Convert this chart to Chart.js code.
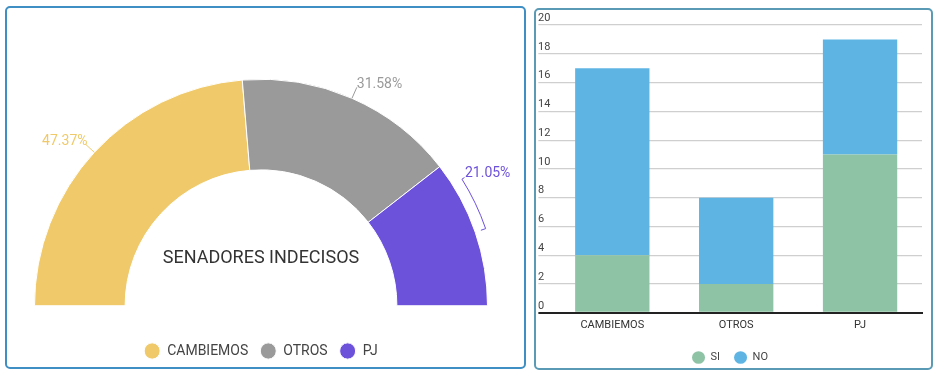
<!DOCTYPE html>
<html>
<head>
<meta charset="utf-8">
<script src="https://cdn.jsdelivr.net/npm/chart.js@4.4.1/dist/chart.umd.min.js"></script>
<style>
  body { margin: 0; background: #fff; font-family: Roboto, sans-serif; }
  .panel { position: absolute; box-sizing: border-box; border: 2px solid #3f8fc4; border-radius: 5px; }
  #panelLeft { left: 5px; top: 6px; width: 521px; height: 363px; }
  #panelRight { left: 534px; top: 8px; width: 399px; height: 362px; border-color: #5a9ab4; }
  .box { position: absolute; }
  #boxLeft { left: 7px; top: 8px; width: 516px; height: 360px; }
  #boxRight { left: 536px; top: 10px; width: 394px; height: 363px; }
</style>
</head>
<body>
<div class="panel" id="panelLeft"></div>
<div class="panel" id="panelRight"></div>
<div class="box" id="boxLeft"><canvas id="pieCanvas"></canvas></div>
<div class="box" id="boxRight"><canvas id="barCanvas"></canvas></div>
<script>
  var parties = ['CAMBIEMOS', 'OTROS', 'PJ'];
  var undecided = [9, 6, 4];
  var pieColors = ['#f0ca6a', '#9a9a9a', '#6c51db'];
  var centerText = 'SENADORES INDECISOS';

  var voteLabels = ['SI', 'NO'];
  var siVotes = [4, 2, 11];
  var noVotes = [13, 6, 8];
  var siColor = '#8ec3a5';
  var noColor = '#5eb5e4';
  var yMax = 20;
  var yStep = 2;

  Chart.defaults.font.family = 'Roboto';
  Chart.defaults.color = '#444';

  var centerTitle = {
    id: 'centerTitle',
    afterDatasetsDraw: function (chart) {
      var arc = chart.getDatasetMeta(0).data[0];
      if (!arc) return;
      var ctx = chart.ctx;
      ctx.save();
      ctx.font = '18px Roboto';
      ctx.fillStyle = '#333';
      ctx.textAlign = 'center';
      ctx.textBaseline = 'middle';
      ctx.fillText(centerText, arc.x, arc.y - arc.outerRadius * 0.21);
      ctx.restore();
    }
  };

  var sliceLabels = {
    id: 'sliceLabels',
    afterDatasetsDraw: function (chart) {
      var meta = chart.getDatasetMeta(0);
      var values = chart.data.datasets[0].data;
      var total = values.reduce(function (a, b) { return a + b; }, 0);
      var ctx = chart.ctx;
      ctx.save();
      ctx.font = '14px Roboto';
      ctx.lineWidth = 1;
      ctx.textBaseline = 'middle';
      meta.data.forEach(function (arc, i) {
        var color = pieColors[i];
        var mid = (arc.startAngle + arc.endAngle) / 2;
        var r = arc.outerRadius;
        var cos = Math.cos(mid), sin = Math.sin(mid);
        var text = (values[i] / total * 100).toFixed(2) + '%';
        ctx.strokeStyle = color;
        ctx.fillStyle = color;
        if (i < meta.data.length - 1) {
          var x0 = arc.x + cos * r, y0 = arc.y + sin * r;
          var x1 = arc.x + cos * (r + 12), y1 = arc.y + sin * (r + 12);
          ctx.beginPath();
          ctx.moveTo(x0, y0);
          ctx.lineTo(x1, y1);
          ctx.stroke();
          ctx.textAlign = cos < 0 ? 'right' : 'left';
          ctx.fillText(text, x1 + (cos < 0 ? 2 : 0), y1 - 3);
        } else {
          // bracket along the outer edge of the last slice
          var rb = r + 11;
          var a1 = mid - (arc.endAngle - arc.startAngle) * 0.35;
          ctx.beginPath();
          ctx.moveTo(arc.x + Math.cos(a1) * (rb + 3), arc.y + Math.sin(a1) * (rb + 3));
          ctx.arc(arc.x, arc.y, rb, a1, mid);
          ctx.lineTo(arc.x + cos * (rb - 5), arc.y + sin * (rb - 5));
          ctx.stroke();
          var tx = arc.x + Math.cos(a1) * rb, ty = arc.y + Math.sin(a1) * rb;
          ctx.textAlign = 'left';
          ctx.fillText(text, tx + 3, ty - 6);
        }
      });
      ctx.restore();
    }
  };

  new Chart(document.getElementById('pieCanvas'), {
    type: 'doughnut',
    data: {
      labels: parties,
      datasets: [{
        data: undecided,
        backgroundColor: pieColors,
        borderColor: '#fff',
        borderWidth: 1
      }]
    },
    options: {
      animation: false,
      responsive: true,
      maintainAspectRatio: false,
      rotation: -90,
      circumference: 180,
      cutout: '60%',
      layout: { padding: { left: 27, right: 35, top: 45, bottom: 0 } },
      plugins: {
        tooltip: { enabled: false },
        legend: {
          position: 'bottom',
          labels: {
            usePointStyle: true,
            pointStyle: 'circle',
            boxHeight: 11.5,
            pointStyleWidth: 16,
            padding: 12,
            color: '#444',
            font: { size: 14 }
          }
        }
      }
    },
    plugins: [centerTitle, sliceLabels]
  });

  new Chart(document.getElementById('barCanvas'), {
    type: 'bar',
    data: {
      labels: parties,
      datasets: [
        { label: voteLabels[0], data: siVotes, backgroundColor: siColor },
        { label: voteLabels[1], data: noVotes, backgroundColor: noColor }
      ]
    },
    options: {
      animation: false,
      responsive: true,
      maintainAspectRatio: false,
      layout: { padding: { left: 2, right: 8, top: 15, bottom: 0 } },
      datasets: { bar: { barPercentage: 0.6, categoryPercentage: 1.0 } },
      plugins: {
        tooltip: { enabled: false },
        legend: {
          position: 'bottom',
          labels: {
            usePointStyle: true,
            pointStyle: 'circle',
            boxHeight: 9,
            pointStyleWidth: 13,
            padding: 14,
            color: '#444',
            font: { size: 11 }
          }
        }
      },
      scales: {
        x: {
          stacked: true,
          grid: { display: false, drawTicks: false },
          border: { display: true, color: '#222', width: 2 },
          ticks: { color: '#333', padding: 6, font: { size: 11 } }
        },
        y: {
          stacked: true,
          min: 0,
          max: yMax,
          border: { display: false },
          grid: {
            tickLength: 12,
            color: function (c) { return c.tick && c.tick.value === 0 ? '#222' : '#cfcfcf'; },
            lineWidth: function (c) { return c.tick && c.tick.value === 0 ? 2 : 1.2; }
          },
          ticks: {
            stepSize: yStep,
            crossAlign: 'far',
            padding: -6,
            labelOffset: -7,
            color: '#444',
            font: { size: 11 }
          }
        }
      }
    }
  });
</script>
</body>
</html>
